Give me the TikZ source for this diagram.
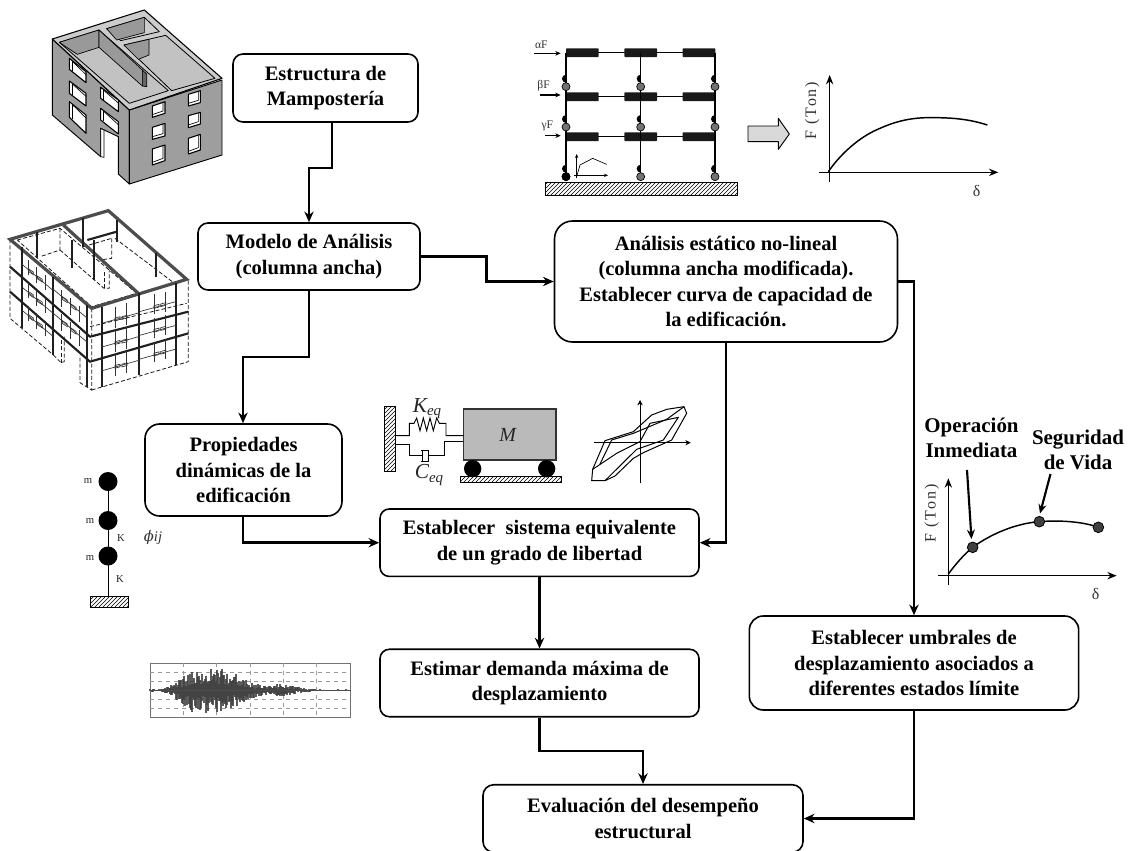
\documentclass[tikz,border=0pt]{standalone}
\usepackage{fontspec}
\setmainfont{Liberation Serif}
\newfontfamily\spacedserif[LetterSpace=12]{Liberation Serif}
\usetikzlibrary{arrows.meta,patterns,calc}
\tikzset{
 rbox/.style={draw=black,fill=white,line width=1.2pt,align=center,inner sep=0pt,font=\fontsize{15.4}{19}\selectfont\bfseries},
 conn/.style={line width=2pt,-{Stealth[length=8pt,width=7pt]}},
 axisarrow/.style={line width=.9pt,-{Stealth[length=7pt,width=5.5pt]}},
 thinaxis/.style={line width=.5pt,-{Stealth[length=3pt,width=2.5pt]}},
 curve/.style={line width=1.1pt},
 lbl/.style={inner sep=0pt,text=black!80,font=\fontsize{12}{14}\selectfont},
 spaced lbl/.style={inner sep=0pt,text=black!80,font=\fontsize{12}{14}\spacedserif},
 tiny lbl/.style={inner sep=0pt,text=black!80,font=\fontsize{8.7}{10}\selectfont},
 stick lbl/.style={inner sep=0pt,text=black!85,font=\fontsize{8}{10}\selectfont},
 bold lbl/.style={inner sep=0pt,align=center,font=\fontsize{15.7}{19}\selectfont\bfseries},
 wall/.style={fill=black!38,draw=black,line width=.7pt,line join=round},
 inner wall/.style={fill=black!40,draw=black,line width=.5pt,line join=round},
 win/.style={fill=white,draw=black,line width=.8pt,line join=round},
 hatchbox/.style={draw=black,line width=.6pt,pattern=north east lines},
 wiredash/.style={line width=.6pt,dash pattern=on 3pt off 1.6pt,black!90},
 wirethick/.style={line width=1.6pt,black!88},
 wiregrey/.style={line width=2.4pt,black!70},
 wirethin/.style={line width=.5pt,black!80},
 beam/.style={fill=black!90,draw=none,rounded corners=.5pt},
 hinge/.style={fill=black!55,draw=black,line width=.5pt},
 mass/.style={fill=black},
 dot/.style={fill=black!75,draw=black,line width=.6pt}
}
\begin{document}
\begin{tikzpicture}[x=0.75pt,y=-0.75pt]
\useasboundingbox (0,0) rectangle (1128,850);
\fill[white] (0,0) rectangle (1128,850);

% ---- Building (solid)
\begin{scope}[x=0.25pt,y=-0.25pt]
 \filldraw[wall] (157,117) -- (388,330) -- (388,552) -- (355,522) -- (355,410) -- (302,385) -- (302,470) -- (157,345) -- cycle;
 \filldraw[white,draw=black,line width=.5pt] (302,385) -- (312,390) -- (312,472) -- (302,470) -- cycle;
 \filldraw[wall] (388,330) -- (666,240) -- (666,465) -- (388,552) -- cycle;
 % roof slab
 \filldraw[fill=black!20,draw=black,line width=.8pt,line join=round] (157,117) -- (433,30) -- (666,235) -- (388,330) -- cycle;
 % back room
 \filldraw[fill=black!20,draw=black,line width=.6pt,line join=round] (320,86) -- (433,52) -- (478,95) -- (362,122) -- cycle;
 \filldraw[inner wall] (320,86) -- (433,52) -- (433,98) -- (350,120) -- cycle;
 % left room
 \filldraw[fill=black!24,draw=black,line width=.6pt,line join=round] (178,127) -- (297,90) -- (505,272) -- (388,310) -- cycle;
 \filldraw[inner wall] (178,127) -- (297,90) -- (297,142) -- (232,163) -- cycle;
 \filldraw[inner wall] (297,90) -- (427,210) -- (427,258) -- (297,142) -- cycle;
 \filldraw[fill=black!60,draw=black,line width=.5pt] (427,210) -- (440,222) -- (440,260) -- (427,258) -- cycle;
 % right room
 \filldraw[fill=black!24,draw=black,line width=.6pt,line join=round] (372,135) -- (497,106) -- (645,235) -- (515,272) -- cycle;
 \filldraw[inner wall] (372,135) -- (447,118) -- (447,165) -- (415,178) -- cycle;
 % left windows
 \foreach \a/\b/\c/\d/\e/\f in {208/175/208/258/215/248,208/243/280/258/280/318,208/305/352/258/345/400,302/262/295/355/300/335,302/325/360/355/365/402}{
  \filldraw[win] (\a,\b) -- (\d,\e) -- (\d,\f) -- (\a,\c) -- cycle;
  \draw[black,line width=.5pt] (\a+8,\b+8) -- (\d,\e+9);
  \draw[black,line width=.5pt] (\a+8,\b+8) -- (\a+8,\c+4);
 }
 % right windows
 \foreach \a/\b/\c/\d/\e/\f in {457/318/352/495/305/340,457/382/418/495/370/408,457/447/495/495/435/482,565/283/318/601/272/308,565/347/383/601/337/372,565/415/462/601/403/450}{
  \filldraw[win] (\a,\b) -- (\d,\e) -- (\d,\f) -- (\a,\c) -- cycle;
  \draw[black,line width=.5pt] (\a,\c-8) -- (\d-6,\f-7) -- (\d-6,\e+2);
 }
 \draw[black,line width=.9pt] (388,330) -- (388,552);
\end{scope}

% ---- Building (wide-column model)
\begin{scope}[shift={(0,190)},x=0.25pt,y=-0.25pt]
 \draw[wiredash] (30,148) -- (30,385) -- (160,495);
 \draw[wiredash] (275,355) -- (275,600) -- (240,578) -- (240,495);
 \draw[wiredash] (275,600) -- (565,515) -- (565,268);
 \draw[wiredash] (160,495) -- (183,518) -- (193,515) -- (193,440);
 \draw[wiredash] (183,518) -- (183,440);
 \draw[wiredash] (52,150) -- (180,115) -- (410,310) -- (275,350) -- cycle;
 \draw[wiredash] (180,115) -- (180,180) -- (120,200);
 \draw[wiredash] (180,180) -- (312,295) -- (328,295) -- (328,240);
 \draw[wiredash] (312,295) -- (312,240);
 \draw[wiredash] (335,145) -- (335,205) -- (300,210);
 \draw[wiredash] (250,170) -- (335,145);
 \draw[wiredash] (345,145) -- (530,285);
 \draw[wiredash] (270,410) -- (560,340);
 % grey roof ring
 \draw[wiregrey] (30,148) -- (325,62) -- (560,268) -- (275,355) -- cycle;
 \draw[wiregrey] (190,105) -- (415,310);
 \draw[wirethick] (262,150) -- (350,125);
 % floor rings
 \draw[wirethick] (30,230) -- (270,440) -- (565,365);
 \draw[wirethick] (30,305) -- (270,515) -- (565,430);
 % columns
 \foreach \x/\p/\q in {65/170/415,160/260/495,262/345/590,305/350/590,418/310/555,527/280/525,110/125/205,215/150/235,250/85/170,283/150/270,352/90/155,468/190/260}{
  \draw[wirethick] (\x,\p) -- (\x,\q);
 }
 % window grid left face
 \foreach \dy in {0,72,145}{
  \draw[wirethin] (85,210+\dy*.95) -- (85,255+\dy*.95);
  \draw[wirethin] (110,232+\dy*.95) -- (110,280+\dy*.95);
  \draw[wirethin] (135,255+\dy*.95) -- (135,300+\dy*.95);
  \draw[wirethin] (65,222+\dy*.95) -- (160,302+\dy*.95);
  \draw[wirethin] (85,236+\dy*.95) -- (100,246+\dy*.95) -- (100,254+\dy*.95) -- (85,244+\dy*.95) -- cycle;
  \draw[wirethin] (112,258+\dy*.95) -- (127,268+\dy*.95) -- (127,276+\dy*.95) -- (112,266+\dy*.95) -- cycle;
 }
 \foreach \dy in {0,72}{
  \draw[wirethin] (185,300+\dy) -- (185,350+\dy);
  \draw[wirethin] (212,325+\dy) -- (212,375+\dy);
  \draw[wirethin] (238,348+\dy) -- (238,395+\dy);
  \draw[wirethin] (160,298+\dy) -- (262,385+\dy);
  \draw[wirethin] (187,320+\dy) -- (202,330+\dy) -- (202,338+\dy) -- (187,328+\dy) -- cycle;
  \draw[wirethin] (213,342+\dy) -- (228,352+\dy) -- (228,360+\dy) -- (213,350+\dy) -- cycle;
 }
 % window grid right face
 \foreach \dy in {0,75,150}{
  \draw[wirethin] (305,400+\dy*.95) -- (418,368+\dy*.95);
  \draw[wirethin] (418,365+\dy*.95) -- (527,335+\dy*.95);
  \draw[wirethin] (345,350+\dy*.95) -- (345,415+\dy*.95);
  \draw[wirethin] (380,340+\dy*.95) -- (380,405+\dy*.95);
  \draw[wirethin] (345,384+\dy*.95) -- (360,380+\dy*.95) -- (360,388+\dy*.95) -- (345,392+\dy*.95) -- cycle;
  \draw[wirethin] (366,380+\dy*.95) -- (381,376+\dy*.95) -- (381,384+\dy*.95) -- (366,388+\dy*.95) -- cycle;
  \draw[wirethin] (462,312+\dy*.95) -- (462,372+\dy*.95);
  \draw[wirethin] (495,305+\dy*.95) -- (495,365+\dy*.95);
  \draw[wirethin] (462,347+\dy*.95) -- (477,343+\dy*.95) -- (477,351+\dy*.95) -- (462,355+\dy*.95) -- cycle;
  \draw[wirethin] (482,342+\dy*.95) -- (497,338+\dy*.95) -- (497,346+\dy*.95) -- (482,350+\dy*.95) -- cycle;
 }
\end{scope}

% ---- Pushover frame
\begin{scope}[shift={(520,0)},x=0.25pt,y=-0.25pt]
 \filldraw[hatchbox] (77,548) rectangle (652,586);
 \foreach \y in {158,290,410}{
  \draw[line width=1pt] (138,\y) -- (585,\y);
  \foreach \x in {138,313,488}{ \fill[beam] (\x,\y-13) rectangle (\x+98,\y+13); }
 }
 \foreach \x in {138,362,585}{ \draw[line width=1pt] (\x,158) -- (\x,535); }
 \foreach \x in {138,362,585}{
  \foreach \y in {260,381,530}{
   \filldraw[hinge] (\x,\y) circle (12);
   \fill[black] (\x,\y-12) arc (90:270:12) -- cycle;
  }
 }
 \fill[black] (138,530) circle (13);
 \draw[line width=.8pt,-{Stealth[length=4pt,width=3.5pt]}] (42,160) -- (122,160);
 \draw[line width=.8pt,-{Stealth[length=4pt,width=3.5pt]}] (60,285) -- (122,285);
 \draw[line width=.8pt,-{Stealth[length=4pt,width=3.5pt]}] (76,407) -- (122,407);
 \node[tiny lbl] (af) at (64,135) {αF};
 \node[tiny lbl] (bf) at (71,256) {βF};
 \node[tiny lbl] (gf) at (82,377) {γF};
 \draw[thinaxis] (170,535) -- (170,462);
 \draw[thinaxis] (163,526) -- (264,526);
 \draw[line width=.5pt] (170,530) -- (180,495) -- (218,475) -- (260,493);
 \filldraw[fill=black!15,draw=black,line width=.7pt,line join=round] (684,378) -- (775,378) -- (775,355) -- (808,402) -- (775,448) -- (775,425) -- (684,425) -- cycle;
\end{scope}

% ---- Capacity curve (top)
\begin{scope}[shift={(800,60)},x=0.25pt,y=-0.25pt]
 \draw[axisarrow] (89,365) -- (89,45);
 \draw[axisarrow] (57,337) -- (595,337);
 \draw[curve] (85,335) .. controls (130,270) and (190,225) .. (240,205) .. controls (300,178) and (350,172) .. (400,173) .. controls (460,173) and (510,178) .. (562,195);
 \node[spaced lbl,rotate=90] (f1) at (37,152) {F (Ton)};
 \node[lbl] (d1) at (530,392) {δ};
\end{scope}

% ---- Spring-mass
\begin{scope}[shift={(370,390)},x=0.25pt,y=-0.25pt]
 \filldraw[hatchbox] (42,50) rectangle (75,245);
 \filldraw[hatchbox] (272,260) rectangle (573,277);
 \filldraw[fill=black!27,draw=black!80,line width=.8pt] (280,57) rectangle (558,210);
 \fill[black] (308,236) circle (26);
 \fill[black] (530,236) circle (26);
 \draw[line width=.7pt,line join=miter] (75,137) -- (118,137) -- (118,100) -- (132,100) -- (140,84) -- (150,122) -- (160,84) -- (170,122) -- (180,84) -- (190,122) -- (200,84) -- (208,100) -- (228,100) -- (228,137) -- (280,137);
 \draw[line width=.7pt] (75,163) -- (118,163) -- (118,197) -- (157,197);
 \draw[line width=.7pt] (157,180) -- (157,215);
 \draw[line width=.7pt] (176,180) -- (152,180) (176,215) -- (152,215) (176,180) -- (176,215);
 \draw[line width=.7pt] (176,197) -- (222,197) -- (222,155) -- (280,155);
 \node[inner sep=0pt,font=\fontsize{16}{18}\selectfont\itshape,text=black!85] (keq) at (172,55) {K\textsubscript{eq}};
 \node[inner sep=0pt,font=\fontsize{16}{18}\selectfont\itshape,text=black!85] (ceq) at (178,255) {C\textsubscript{eq}};
 \node[inner sep=0pt,font=\fontsize{15}{18}\selectfont\itshape,text=black!85] (mm) at (413,135) {M};
 % hysteresis
 \draw[line width=.6pt,-{Stealth[length=4pt,width=4pt]}] (672,158) -- (962,158);
 \draw[line width=.6pt,-{Stealth[length=4pt,width=4pt]}] (810,280) -- (810,30);
 \draw[line width=.75pt,line join=round] (668,238) -- (705,152) -- (790,125) -- (845,75) -- (890,58) -- (942,50) -- (950,70) -- (905,150) -- (820,188) -- (790,205) -- (735,258) -- (705,272) -- (665,272) -- (668,238);
 \draw[line width=.75pt,line join=round] (668,238) -- (740,190) -- (810,155) -- (840,100) -- (925,82) -- (880,150) -- (800,178) -- (705,272);
 \draw[line width=.75pt,line join=round] (690,222) -- (725,150) -- (790,130) -- (890,88) -- (942,50);
\end{scope}

% ---- Stick model
\draw[line width=.75pt] (108,481) -- (108,596);
\fill[mass] (108,481.5) circle (9.5);
\fill[mass] (108,520.5) circle (9.5);
\fill[mass] (108,556) circle (9.5);
\filldraw[hatchbox] (90,596) rectangle (128,607);
\node[stick lbl] (m1) at (88,481) {m};
\node[stick lbl] (m2) at (90,521) {m};
\node[stick lbl] (m3) at (90,558) {m};
\node[stick lbl] (k1) at (121,538) {K};
\node[stick lbl] (k2) at (120,579) {K};
\node[inner sep=0pt,text=black!80,font=\fontsize{11}{14}\selectfont\itshape] (phi) at (153,537) {\fontspec{DejaVu Serif}\char"03D5\fontspec{Liberation Serif}\itshape ij};

% ---- Seismogram
\begin{scope}[shift={(120,660)},x=0.25pt,y=-0.25pt]
 \draw[line width=.6pt,black!55] (90,10) rectangle (690,172);
 \foreach \y in {37,64,91,118,145}{ \draw[line width=.35pt,black!40,dashed] (90,\y) -- (690,\y); }
 \foreach \x in {190,290,390,490,590}{ \draw[line width=.35pt,black!40,dashed] (\x,10) -- (\x,172); }
 \pgfmathsetseed{7}
 \foreach \x in {90,93,...,690}{
  \pgfmathsetmacro{\env}{3+66*exp(-((\x-295)/95)^2)+28*exp(-((\x-210)/45)^2)+15*exp(-((\x-490)/50)^2)}
  \pgfmathsetmacro{\ta}{\env*(0.25+0.75*rnd)}
  \pgfmathsetmacro{\tb}{\env*(0.25+0.75*rnd)}
  \draw[line width=.9pt,black!75,opacity=.85] (\x,91-\ta) -- (\x,91+\tb);
 }
 \draw[line width=.7pt,black!70] (90,91) -- (690,91);
\end{scope}

% ---- Right curve with limit states
\begin{scope}[shift={(920,420)},x=0.25pt,y=-0.25pt]
 \draw[axisarrow] (85,495) -- (85,175);
 \draw[axisarrow] (55,467) -- (590,467);
 \draw[curve] (85,462) .. controls (105,435) and (130,405) .. (158,382) .. controls (215,340) and (290,310) .. (358,305) .. controls (420,300) and (490,305) .. (535,322);
 \node[coordinate] (p1) at (158,382) {};
 \node[coordinate] (p2) at (358,305) {};
 \node[coordinate] (p3) at (535,322) {};
 \foreach \p in {p1,p2,p3}{ \filldraw[dot] (\p) circle (16); }
 \node[spaced lbl,rotate=90] (f2) at (35,280) {F (Ton)};
 \node[lbl] (d2) at (527,523) {δ};
\end{scope}
\node[bold lbl] (op) at (971.5,437.5) {Operación\\Inmediata};
\node[bold lbl] (seg) at (1078,450) {Seguridad\\de Vida};
\coordinate (opstart) at (967,470);
\coordinate (opend) at (971.5,539);
\coordinate (segstart) at (1050.5,474);
\coordinate (segend) at (1040,513.5);
\draw[line width=1.6pt,-{Stealth[length=7pt,width=6pt]}] (opstart) -- (opend);
\draw[line width=1.6pt,-{Stealth[length=7pt,width=6pt]}] (segstart) -- (segend);

% ---- Process boxes
\node[rbox,rounded corners=7.5pt,minimum width=138.75pt,minimum height=51pt] (n1) at (325.5,88) {Estructura de\\Mampostería};
\node[rbox,rounded corners=7.5pt,minimum width=166.5pt,minimum height=50.25pt] (n2) at (309,256.5) {Modelo de Análisis\\(columna ancha)};
\node[rbox,rounded corners=13.5pt,minimum width=257.25pt,minimum height=90.75pt] (n3) at (726,281.5) {Análisis estático no-lineal\\(columna ancha modificada).\\Establecer curva de capacidad de\\la edificación.};
\node[rbox,rounded corners=11pt,minimum width=147.75pt,minimum height=69pt] (n4) at (243.5,470) {Propiedades\\dinámicas de la\\edificación};
\node[rbox,rounded corners=7pt,minimum width=239.25pt,minimum height=50.6pt] (n5) at (539.5,542.7) {Establecer\ \ sistema equivalente\\de un grado de libertad};
\node[rbox,rounded corners=7pt,minimum width=239.25pt,minimum height=50.6pt] (n6) at (539.5,683) {Estimar demanda máxima de\\desplazamiento};
\node[rbox,rounded corners=10.5pt,minimum width=247pt,minimum height=70.5pt] (n7) at (914,663) {Establecer umbrales de\\desplazamiento asociados a\\diferentes estados límite};
\node[rbox,rounded corners=8pt,minimum width=240pt,minimum height=50.6pt] (n8) at (643,818.5) {Evaluación del desempeño\\estructural};

% ---- Connectors
\draw[conn] (332,0 |- n1.south) |- (309,168) -- (309,0 |- n2.north);
\draw[conn] (n2.east) -- (486.5,0 |- n2.east) |- (n3.west);
\draw[conn] (309,0 |- n2.south) |- (243,357) -- (243,0 |- n4.north);
\draw[conn] (243,0 |- n4.south) |- (n5.west);
\draw[conn] (726,0 |- n3.south) |- (n5.east);
\draw[conn] (539.5,0 |- n5.south) -- (539.5,0 |- n6.north);
\draw[conn] (539.5,0 |- n6.south) |- (643,751) -- (643,0 |- n8.north);
\draw[conn] (n3.east) -| (914,0 |- n7.north);
\draw[conn] (914,0 |- n7.south) |- (n8.east);
\end{tikzpicture}
\end{document}
